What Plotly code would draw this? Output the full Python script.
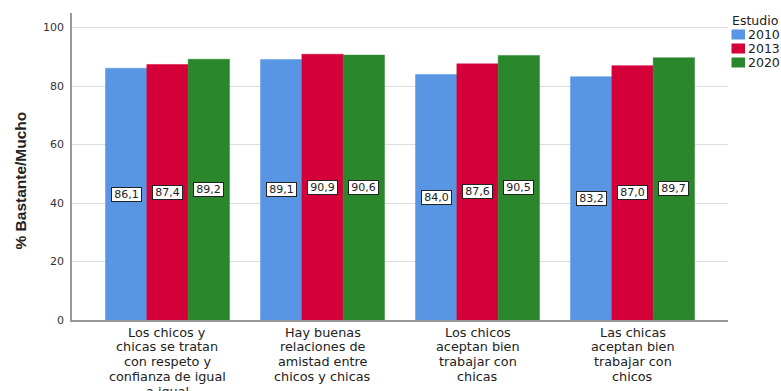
import plotly.graph_objects as go

cat_lines = [
    ["Los chicos y", "chicas se tratan", "con respeto y", "confianza de igual", "a igual"],
    ["Hay buenas", "relaciones de", "amistad entre", "chicos y chicas"],
    ["Los chicos", "aceptan bien", "trabajar con", "chicas"],
    ["Las chicas", "aceptan bien", "trabajar con", "chicos"],
]
years = ["2010", "2013", "2020"]
v2010 = [86.1, 89.1, 84.0, 83.2]
v2013 = [87.4, 90.9, 87.6, 87.0]
v2020 = [89.2, 90.6, 90.5, 89.7]
series = [v2010, v2013, v2020]
colors = ["#5895E2", "#D5003A", "#2A872C"]
yticks = [0, 20, 40, 60, 80, 100]
y_title = "% Bastante/Mucho"
legend_title = "Estudio"

xs = list(range(len(cat_lines)))
bargap = 0.2
bw = (1 - bargap) / len(series)
SANS = "DejaVu Sans"
ARIAL = "Liberation Sans, Arial"

# body margin is removed by post_script, so figure pixels == window pixels
W, H = 781, 391
PL, PR, PT, PB = 72, 728, 13, 320  # plot area in pixels
L, T, R, B = PL, PT, W - PR, H - PB
pw, ph = PR - PL, PB - PT


def px(wx):
    return (wx - PL) / pw


def py(wy):
    return (PB - wy) / ph


fig = go.Figure()
for i, (name, vals, col) in enumerate(zip(years, series, colors)):
    fig.add_trace(go.Bar(
        x=xs, y=vals, name=name, showlegend=False, hoverinfo="skip",
        marker=dict(color=col, line=dict(color=col, width=0.5)),
    ))
    for xi, v in zip(xs, vals):
        fig.add_annotation(
            x=xi + (i - 1) * bw, y=v / 2, xref="x", yref="y",
            text="\u2009" + f"{v:.1f}".replace(".", ",") + "\u2009", showarrow=False,
            bgcolor="white", bordercolor="#222", borderwidth=1, borderpad=0,
            font=dict(family=SANS, size=11, color="#222"),
        )

# category labels (tightly spaced lines)
for xi, lines in zip(xs, cat_lines):
    for k, line in enumerate(lines):
        fig.add_annotation(
            x=xi, y=py(332 + 14.9 * k), xref="x", yref="paper", text=line,
            showarrow=False, xanchor="center", yanchor="middle", borderpad=0,
            font=dict(family=SANS, size=12.8, color="#222"),
        )

# y-axis title
fig.add_annotation(
    x=px(19.5), y=py(181), xref="paper", yref="paper", text="<b>" + y_title + "</b>",
    textangle=-90, showarrow=False, xanchor="center", yanchor="middle",
    font=dict(family=ARIAL, size=15.5, color="#222"),
)

# legend
fig.add_annotation(x=px(731), y=py(20), xref="paper", yref="paper", text=legend_title,
                   showarrow=False, xanchor="left", yanchor="middle", borderpad=0,
                   font=dict(family=SANS, size=12.5, color="#222"))
for i, (name, col) in enumerate(zip(years, colors)):
    yc = 34.5 + 14 * i
    fig.add_shape(type="rect", xref="paper", yref="paper",
                  x0=px(731.5), x1=px(745), y0=py(yc - 5), y1=py(yc + 5),
                  fillcolor=col, line=dict(width=0))
    fig.add_annotation(x=px(747), y=py(yc), xref="paper", yref="paper", text=name,
                       showarrow=False, xanchor="left", yanchor="middle", borderpad=0,
                       font=dict(family=SANS, size=12.5, color="#222"))

fig.update_layout(
    width=W, height=H,
    margin=dict(l=L, r=R, t=T, b=B, autoexpand=False),
    paper_bgcolor="white", plot_bgcolor="white",
    barmode="group", bargap=bargap, bargroupgap=0,
    font=dict(family=SANS, color="#222"),
    showlegend=False,
)
fig.update_xaxes(
    tickvals=xs, ticktext=["" for _ in xs], range=[-0.616, 3.616],
    showline=True, linecolor="#999", linewidth=1.5, ticks="",
    showgrid=False, automargin=False,
)
fig.update_yaxes(
    range=[0, 105], tickvals=yticks, ticktext=[str(t) for t in yticks],
    showline=True, linecolor="#999", linewidth=1.5,
    showgrid=True, gridcolor="#DDDDDD", gridwidth=1,
    ticks="outside", ticklen=4, tickcolor="white",
    tickfont=dict(family=SANS, size=11, color="#333"),
    zeroline=False, automargin=False,
)

fig.write_html(
    "out.html",
    config={"displayModeBar": False},
    post_script="document.body.style.margin='0';document.body.style.overflow='hidden';",
)
